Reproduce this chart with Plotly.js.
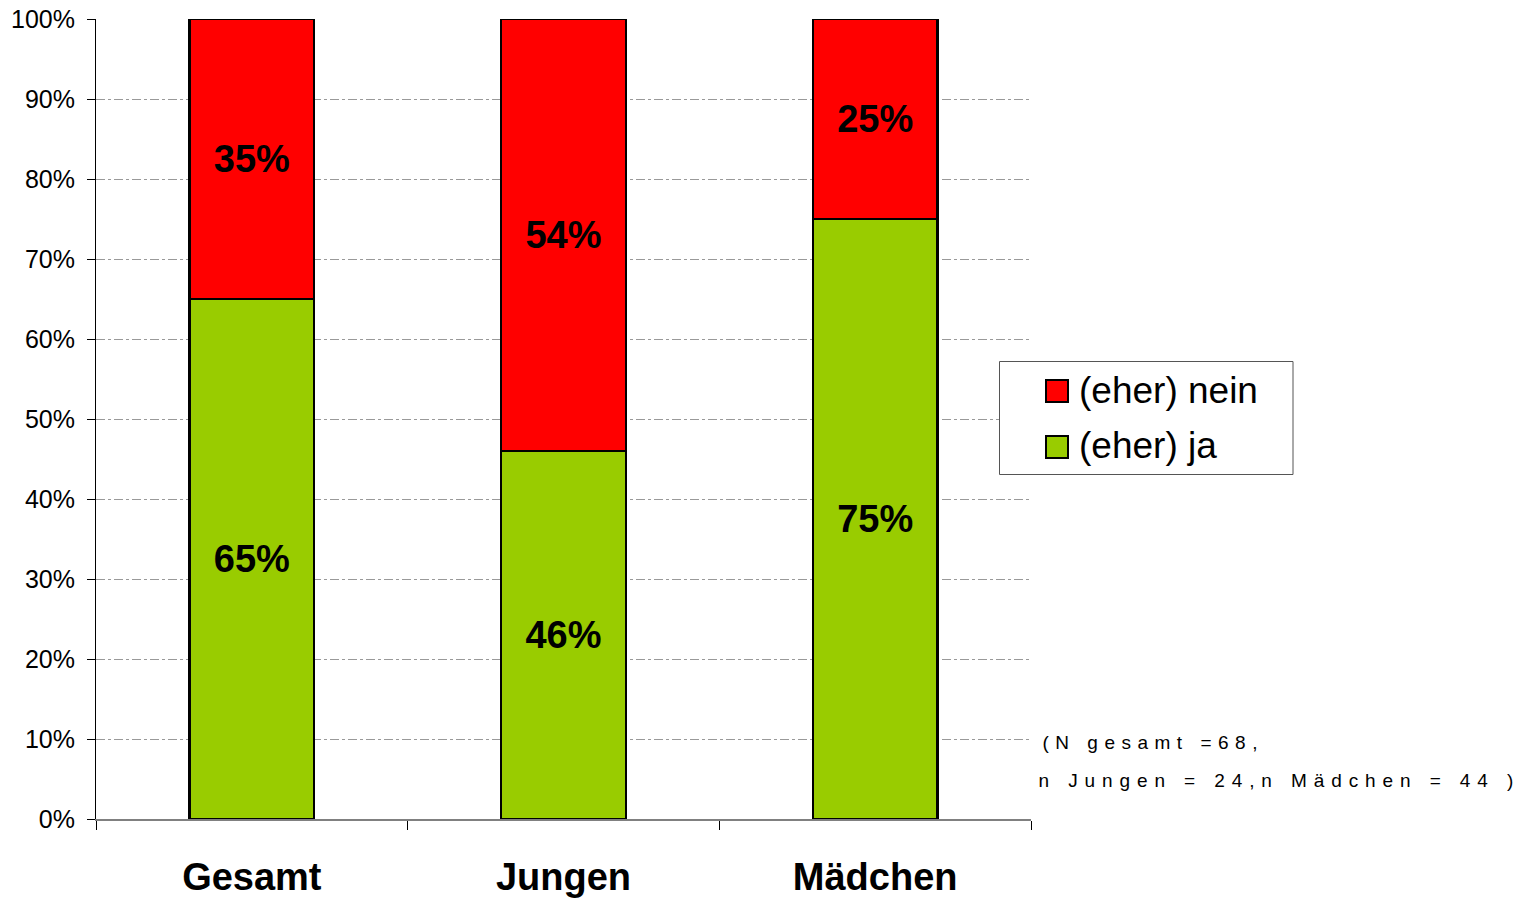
<!DOCTYPE html>
<html><head><meta charset="utf-8">
<script src="https://cdn.plot.ly/plotly-3.0.1.min.js"></script>
<style>
html,body{margin:0;padding:0;background:#fff}
g.annotation[data-index="0"] text {letter-spacing: 6.5px;}
g.annotation[data-index="1"] text {letter-spacing: 6.9px;}
</style>
</head><body>
<div id="chart" style="width:1525px;height:898px"></div>
<script>
const categories = ["Gesamt", "Jungen", "Mädchen"];
const jaValues = [0.65, 0.46, 0.75];
const neinValues = [0.35, 0.54, 0.25];
const seriesNames = ["(eher) ja", "(eher) nein"];
const noteLines = ["(N gesamt =68,", "n Jungen = 24,n Mädchen = 44 )"];

const FONT = "Liberation Sans, Arial, sans-serif";
const GREEN = "#99CC00", RED = "#FF0000";
const NOTE_SPACING = [6.5, 6.9];
const pct = v => Math.round(v * 100) + "%";

const traces = [
  {type: "bar", name: seriesNames[0], x: categories, y: jaValues, showlegend: false,
   text: jaValues.map(pct), textposition: "inside", insidetextanchor: "middle",
   textfont: {family: FONT, size: 38, color: "#000", weight: "bold"},
   marker: {color: GREEN, line: {color: "#000", width: 2.5}}, hoverinfo: "none"},
  {type: "bar", name: seriesNames[1], x: categories, y: neinValues, showlegend: false,
   text: neinValues.map(pct), textposition: "inside", insidetextanchor: "middle",
   textfont: {family: FONT, size: 38, color: "#000", weight: "bold"},
   marker: {color: RED, line: {color: "#000", width: 2.5}}, hoverinfo: "none"}
];

// legend drawn in paper coordinates (layout only, not data marks)
const px = x => (x - 96) / 935;
const py = y => (819 - y) / 800;
const legendEntries = [
  {name: seriesNames[1], color: RED, top: 380, bottom: 402, textY: 390},
  {name: seriesNames[0], color: GREEN, top: 436, bottom: 458, textY: 445}
];
const shapes = [
  {type: "rect", xref: "paper", yref: "paper", x0: px(999.5), x1: px(1293), y0: py(474.5), y1: py(361.5),
   line: {color: "#555", width: 1}, fillcolor: "#fff", layer: "above"}
];
const legendAnn = [];
legendEntries.forEach(e => {
  shapes.push({type: "rect", xref: "paper", yref: "paper", x0: px(1046), x1: px(1068), y0: py(e.bottom), y1: py(e.top),
    line: {color: "#000", width: 2}, fillcolor: e.color, layer: "above"});
  legendAnn.push({xref: "paper", yref: "paper", x: px(1077), y: py(e.textY), xanchor: "left", yanchor: "middle",
    text: e.name, showarrow: false, font: {family: FONT, size: 37, color: "#000"}});
});

// letter-spacing is applied by CSS after Plotly measures; shift by half the added width
const spacingShift = (s, ls) => s.length * ls / 2;

const layout = {
  width: 1525, height: 898,
  margin: {l: 96, r: 494, t: 19, b: 79},
  paper_bgcolor: "#fff", plot_bgcolor: "#fff",
  barmode: "stack", bargap: 0.6,
  font: {family: FONT, color: "#000"},
  showlegend: false,
  xaxis: {type: "category", showgrid: false, showline: true, linecolor: "#808080", linewidth: 1.5,
    ticks: "outside", tickson: "boundaries", ticklen: 9, tickcolor: "#000", tickwidth: 1,
    ticklabelstandoff: 24,
    tickfont: {family: FONT, size: 38, color: "#000", weight: "bold"}, fixedrange: true},
  yaxis: {range: [0, 1], dtick: 0.1, tick0: 0, tickformat: ".0%",
    showgrid: true, gridcolor: "#999", griddash: "dashdot", gridwidth: 1,
    showline: true, linecolor: "#000", linewidth: 1, zeroline: false,
    ticks: "outside", ticklen: 8, tickcolor: "#000", ticklabelstandoff: 7,
    tickfont: {family: FONT, size: 25, color: "#000"}, fixedrange: true},
  shapes: shapes,
  annotations: [
    {xref: "paper", yref: "paper", x: px(1040), y: py(742), xanchor: "left", yanchor: "middle",
     xshift: spacingShift(noteLines[0], NOTE_SPACING[0]),
     text: noteLines[0], showarrow: false, font: {family: FONT, size: 19, color: "#000"}},
    {xref: "paper", yref: "paper", x: px(1036), y: py(780), xanchor: "left", yanchor: "middle",
     xshift: spacingShift(noteLines[1], NOTE_SPACING[1]),
     text: noteLines[1], showarrow: false, font: {family: FONT, size: 19, color: "#000"}}
  ].concat(legendAnn)
};

Plotly.newPlot("chart", traces, layout, {displayModeBar: false, staticPlot: true});
</script>
</body></html>
